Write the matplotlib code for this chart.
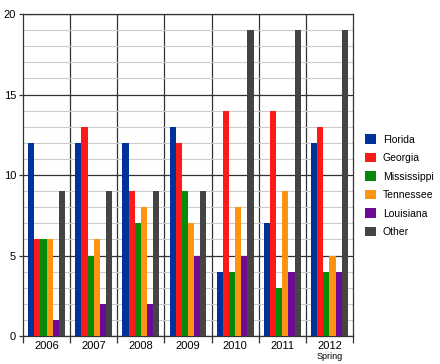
import matplotlib
matplotlib.use("Agg")
import matplotlib.pyplot as plt
from matplotlib.patches import Patch
import numpy as np

plt.rcParams['font.family'] = ['Liberation Sans', 'DejaVu Sans']

categories = ["2006", "2007", "2008", "2009", "2010", "2011", "2012"]
series_names = ["Florida", "Georgia", "Mississippi", "Tennessee", "Louisiana", "Other"]
florida = [12, 12, 12, 13, 4, 7, 12]
georgia = [6, 13, 9, 12, 14, 14, 13]
mississippi = [6, 5, 7, 9, 4, 3, 4]
tennessee = [6, 6, 8, 7, 8, 9, 5]
louisiana = [1, 2, 2, 5, 5, 4, 4]
other = [9, 9, 9, 9, 19, 19, 19]
colors = ["#003399", "#ff1a1a", "#078a07", "#ff9412", "#6e0a96", "#444444"]

data = [florida, georgia, mississippi, tennessee, louisiana, other]

fig = plt.figure(figsize=(4.4, 3.64), dpi=100)
ax = fig.add_axes([23/440, 1-336/364, 330/440, 322/364])

x = np.arange(len(categories))
bw = 0.13
n = len(data)
for i, (vals, c) in enumerate(zip(data, colors)):
    ax.bar(x + (i - (n-1)/2) * bw, vals, width=bw, color=c, linewidth=0, zorder=3)

ax.set_xlim(-0.5, len(categories) - 0.5)
ax.set_ylim(0, 20)
ax.set_yticks([0, 5, 10, 15, 20])
ax.set_yticks(np.arange(0, 21, 1), minor=True)
ax.grid(axis="y", which="minor", color="#cccccc", linewidth=0.8, zorder=0)
ax.grid(axis="y", which="major", color="#333333", linewidth=0.9, zorder=1)
for b in np.arange(0.5, len(categories) - 1, 1):
    ax.axvline(b, color="#333333", linewidth=0.9, zorder=1)

ax.set_xticks(np.arange(-0.5, len(categories), 1))
ax.set_xticklabels([])
ax.tick_params(axis="x", which="major", length=5, color="#333333", width=0.9)
ax.tick_params(axis="y", which="minor", length=0)
ax.tick_params(axis="y", which="major", length=3, color="#333333", width=0.9, labelsize=8, pad=2)
for xi, lab in zip(x, categories):
    ax.text(xi, -0.3, lab, ha="center", va="top", fontsize=8, clip_on=False)
ax.text(x[-1], -1.0, "Spring", ha="center", va="top", fontsize=6.5, clip_on=False)

for s in ax.spines.values():
    s.set_color("#333333")
    s.set_linewidth(0.9)

handles = [Patch(facecolor=c, edgecolor="none", label=nme) for nme, c in zip(series_names, colors)]
fig.legend(handles=handles, loc="upper left", bbox_to_anchor=(362/440, 1-131/364),
           frameon=False, fontsize=7.5, handlelength=1.05, handleheight=1.05,
           labelspacing=0.78, handletextpad=0.65, borderaxespad=0, borderpad=0.3)

fig.savefig("out.png", dpi=100)
